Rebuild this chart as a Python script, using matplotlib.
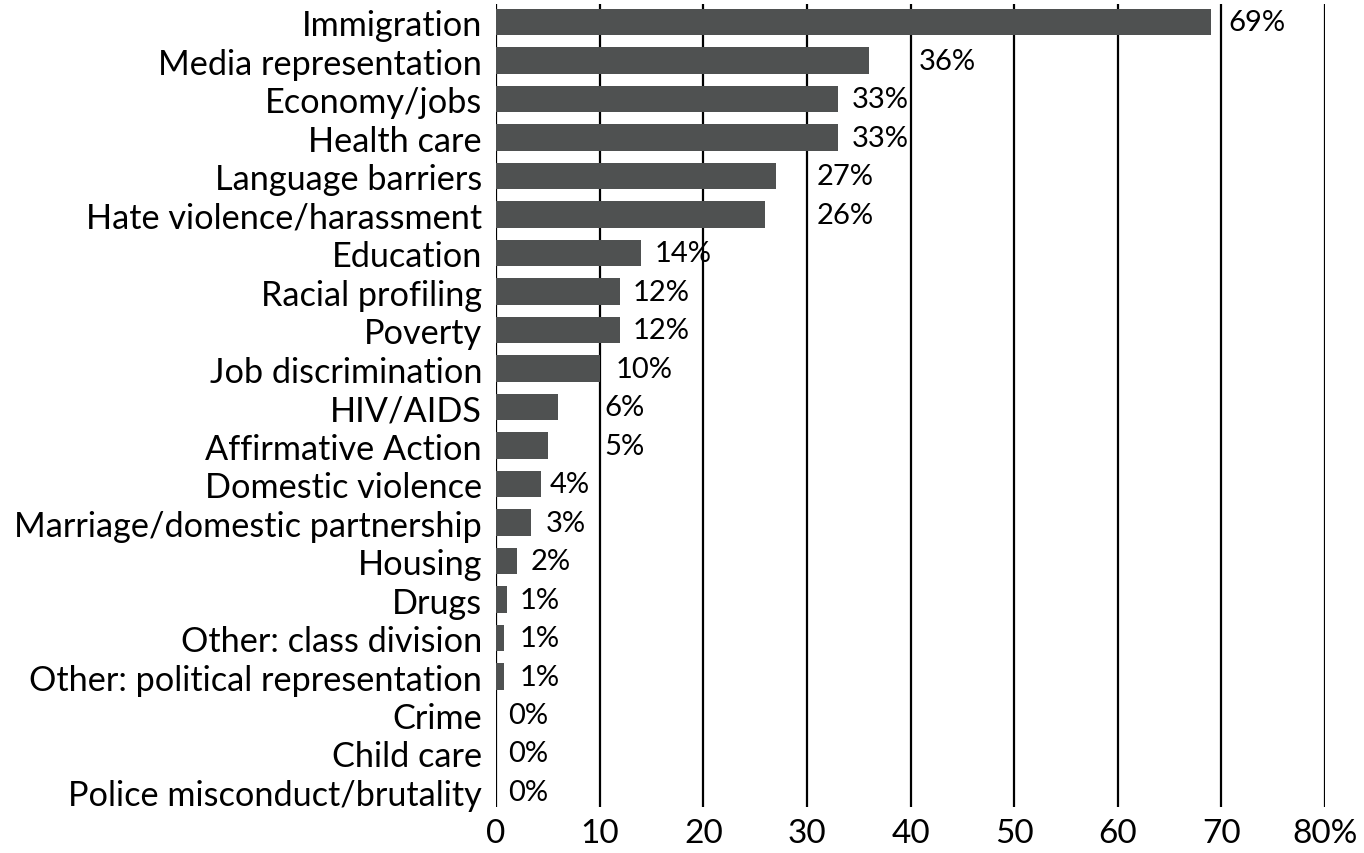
import numpy as np
import matplotlib.pyplot as plt

categories = ["Immigration", "Media representation", "Economy/jobs", "Health care",
              "Language barriers", "Hate violence/harassment", "Education",
              "Racial profiling", "Poverty", "Job discrimination", "HIV/AIDS",
              "Affirmative Action", "Domestic violence", "Marriage/domestic partnership",
              "Housing", "Drugs", "Other: class division", "Other: political representation",
              "Crime", "Child care", "Police misconduct/brutality"]
values = [69, 36, 33, 33, 27, 26, 14, 12, 12, 10, 6, 5, 4.3, 3.4, 2, 1.1, 0.8, 0.8, 0, 0, 0]
labels = ["69%", "36%", "33%", "33%", "27%", "26%", "14%", "12%", "12%", "10%", "6%", "5%",
          "4%", "3%", "2%", "1%", "1%", "1%", "0%", "0%", "0%"]
ticks = [0, 10, 20, 30, 40, 50, 60, 70, 80]
tick_labels = ["0", "10", "20", "30", "40", "50", "60", "70", "80%"]

# where the value labels sit (left edge, in axis units) -- irregular in the original
label_x = [70.7, 40.8, 34.3, 34.3, 30.9, 30.9, 15.3, 13.2, 13.2, 11.5, 10.5, 10.5,
           5.2, 4.8, 3.3, 2.3, 2.3, 2.3, 1.2, 1.2, 1.2]

plt.rcParams['font.family'] = ['Lato', 'DejaVu Sans']

fig = plt.figure(figsize=(13.64, 8.54), dpi=100)
ax = fig.add_axes([496 / 1364, 1 - 808 / 854, (1325 - 496) / 1364, (808 - 5) / 854])

y = np.arange(len(categories))
ax.barh(y, values, height=0.69, color='#4f5151', zorder=2)
for xv in ticks:
    ax.axvline(xv, color='black', linewidth=1.6, zorder=1)
for i, (lx, lab) in enumerate(zip(label_x, labels)):
    ax.text(lx, i, lab, va='center', ha='left', fontsize=21, zorder=3)

ax.set_xlim(0, 80)
ax.set_ylim(len(categories) - 1 + 0.39, -0.47)
ax.set_yticks(y)
ax.set_yticklabels(categories, fontsize=24.7)
ax.set_xticks(ticks)
ax.set_xticklabels(tick_labels, fontsize=24)
ax.tick_params(length=0)
ax.tick_params(axis='x', pad=8)
ax.tick_params(axis='y', pad=10)
for s in ax.spines.values():
    s.set_visible(False)

fig.savefig('out.png', dpi=100)
